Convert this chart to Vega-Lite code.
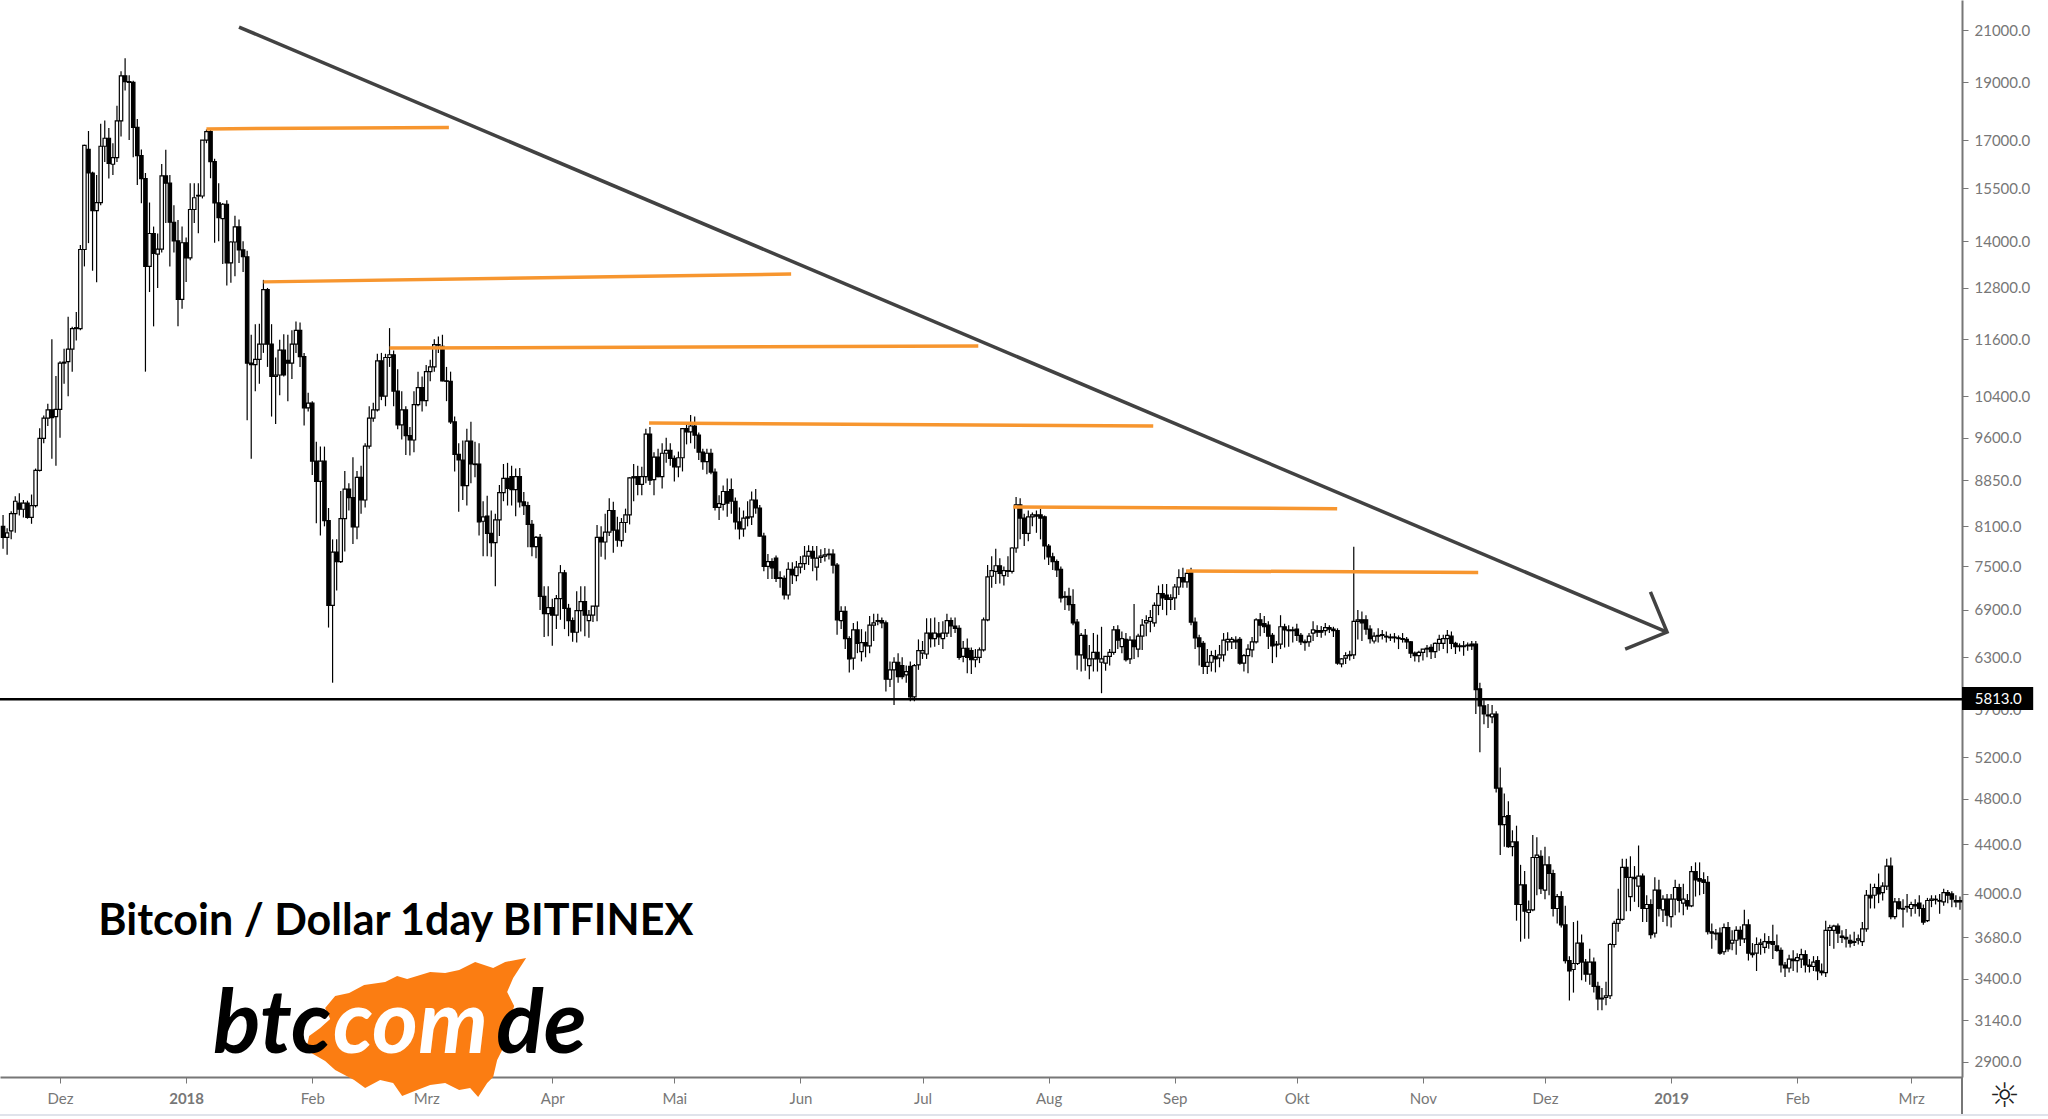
{"$schema":"https://vega.github.io/schema/vega-lite/v6.json","padding":{"left":0,"top":0,"right":86,"bottom":42},"background":"white","width":1962,"height":1077,"autosize":{"type":"none"},"config":{"view":{"stroke":null},"scale":{"continuousPadding":0}},
"datasets":{"candles":[
{"d":"2017-11-17","o":8100,"h":8280,"l":7760,"c":7930},{"d":"2017-11-18","o":7930,"h":8070,"l":7670,"c":8000},{"d":"2017-11-19","o":8030,"h":8340,"l":7900,"c":8300},{"d":"2017-11-20","o":8300,"h":8580,"l":8000,"c":8500},{"d":"2017-11-21","o":8470,"h":8630,"l":8270,"c":8370},{"d":"2017-11-22","o":8370,"h":8520,"l":8240,"c":8470},{"d":"2017-11-23","o":8470,"h":8510,"l":8220,"c":8240},{"d":"2017-11-24","o":8240,"h":8610,"l":8140,"c":8430},{"d":"2017-11-25","o":8430,"h":9050,"l":8400,"c":9020},{"d":"2017-11-26","o":9020,"h":9780,"l":9000,"c":9590},{"d":"2017-11-27","o":9590,"h":10020,"l":9500,"c":9970},{"d":"2017-11-28","o":9970,"h":10250,"l":9820,"c":10130},{"d":"2017-11-29","o":10130,"h":11600,"l":9220,"c":9980},{"d":"2017-11-30","o":10000,"h":10810,"l":9100,"c":10140},
{"d":"2017-12-01","o":10140,"h":11120,"l":9600,"c":11080},{"d":"2017-12-02","o":11080,"h":11390,"l":10650,"c":11100},{"d":"2017-12-03","o":11110,"h":12110,"l":10400,"c":11380},{"d":"2017-12-04","o":11380,"h":11880,"l":10900,"c":11840},{"d":"2017-12-05","o":11840,"h":12220,"l":11570,"c":11860},{"d":"2017-12-06","o":11840,"h":13900,"l":11800,"c":13780},{"d":"2017-12-07","o":13780,"h":16850,"l":13340,"c":16830},{"d":"2017-12-08","o":16700,"h":17300,"l":13950,"c":15960},{"d":"2017-12-09","o":15960,"h":16000,"l":13230,"c":14850},{"d":"2017-12-10","o":14850,"h":15900,"l":12940,"c":15080},{"d":"2017-12-11","o":15080,"h":17540,"l":15000,"c":16800},{"d":"2017-12-12","o":16800,"h":17650,"l":16300,"c":17060},{"d":"2017-12-13","o":17060,"h":17400,"l":15790,"c":16260},{"d":"2017-12-14","o":16230,"h":16900,"l":15900,"c":16440},{"d":"2017-12-15","o":16440,"h":18160,"l":16300,"c":17640},{"d":"2017-12-16","o":17640,"h":19400,"l":17120,"c":19230},{"d":"2017-12-17","o":19230,"h":19890,"l":18700,"c":19020},{"d":"2017-12-18","o":19020,"h":19250,"l":17000,"c":18990},{"d":"2017-12-19","o":18990,"h":19050,"l":16450,"c":17420},{"d":"2017-12-20","o":17420,"h":17700,"l":15600,"c":16500},{"d":"2017-12-21","o":16500,"h":16700,"l":15060,"c":15790},{"d":"2017-12-22","o":15790,"h":15960,"l":10900,"c":13340},{"d":"2017-12-23","o":13340,"h":15080,"l":12700,"c":14210},{"d":"2017-12-24","o":14210,"h":14400,"l":11890,"c":13680},{"d":"2017-12-25","o":13660,"h":14210,"l":12800,"c":13790},{"d":"2017-12-26","o":13790,"h":16240,"l":13700,"c":15870},{"d":"2017-12-27","o":15870,"h":16690,"l":14500,"c":15650},{"d":"2017-12-28","o":15650,"h":15900,"l":13340,"c":14520},{"d":"2017-12-29","o":14520,"h":15000,"l":13700,"c":14010},{"d":"2017-12-30","o":14010,"h":14580,"l":11890,"c":12520},{"d":"2017-12-31","o":12520,"h":14400,"l":12300,"c":13960},
{"d":"2018-01-01","o":13960,"h":14100,"l":12950,"c":13560},{"d":"2018-01-02","o":13560,"h":15650,"l":13500,"c":14880},{"d":"2018-01-03","o":14880,"h":15650,"l":14500,"c":15220},{"d":"2018-01-04","o":15290,"h":15650,"l":14220,"c":15270},{"d":"2018-01-05","o":15270,"h":17000,"l":15200,"c":17000},{"d":"2018-01-06","o":17000,"h":17350,"l":16900,"c":17280},{"d":"2018-01-07","o":17280,"h":17340,"l":15800,"c":16310},{"d":"2018-01-08","o":16310,"h":16400,"l":13960,"c":15070},{"d":"2018-01-09","o":15070,"h":15650,"l":14000,"c":14650},{"d":"2018-01-10","o":14620,"h":15070,"l":13400,"c":15030},{"d":"2018-01-11","o":15030,"h":15150,"l":12860,"c":13430},{"d":"2018-01-12","o":13430,"h":14000,"l":12930,"c":13980},{"d":"2018-01-13","o":13980,"h":14700,"l":13090,"c":14390},{"d":"2018-01-14","o":14390,"h":14600,"l":13430,"c":13770},{"d":"2018-01-15","o":13770,"h":14000,"l":13200,"c":13590},{"d":"2018-01-16","o":13590,"h":13750,"l":9930,"c":11080},{"d":"2018-01-17","o":11080,"h":11700,"l":9220,"c":11050},{"d":"2018-01-18","o":11050,"h":11940,"l":10500,"c":11160},{"d":"2018-01-19","o":11160,"h":11950,"l":10650,"c":11490},{"d":"2018-01-20","o":11490,"h":13000,"l":11300,"c":12760},{"d":"2018-01-21","o":12760,"h":12800,"l":11000,"c":11490},{"d":"2018-01-22","o":11490,"h":11940,"l":10000,"c":10800},{"d":"2018-01-23","o":10800,"h":11200,"l":9860,"c":10830},{"d":"2018-01-24","o":10830,"h":11590,"l":10420,"c":11360},{"d":"2018-01-25","o":11360,"h":11710,"l":10800,"c":10830},{"d":"2018-01-26","o":11140,"h":11700,"l":10300,"c":11080},{"d":"2018-01-27","o":11080,"h":11800,"l":10750,"c":11490},{"d":"2018-01-28","o":11490,"h":12000,"l":11300,"c":11800},{"d":"2018-01-29","o":11800,"h":11980,"l":11000,"c":11220},{"d":"2018-01-30","o":11220,"h":11300,"l":9830,"c":10170},{"d":"2018-01-31","o":10170,"h":10470,"l":10100,"c":10260},
{"d":"2018-02-01","o":10260,"h":10300,"l":8940,"c":9180},{"d":"2018-02-02","o":9180,"h":9530,"l":8150,"c":8830},{"d":"2018-02-03","o":8830,"h":9440,"l":7960,"c":9180},{"d":"2018-02-04","o":9180,"h":9440,"l":8100,"c":8190},{"d":"2018-02-05","o":8190,"h":8390,"l":6670,"c":6960},{"d":"2018-02-06","o":6960,"h":7900,"l":6000,"c":7710},{"d":"2018-02-07","o":7710,"h":7900,"l":7160,"c":7570},{"d":"2018-02-08","o":7570,"h":8670,"l":7550,"c":8220},{"d":"2018-02-09","o":8220,"h":9010,"l":7720,"c":8700},{"d":"2018-02-10","o":8700,"h":8800,"l":8350,"c":8560},{"d":"2018-02-11","o":8560,"h":9250,"l":7830,"c":8090},{"d":"2018-02-12","o":8090,"h":9010,"l":7900,"c":8900},{"d":"2018-02-13","o":8900,"h":9100,"l":8300,"c":8520},{"d":"2018-02-14","o":8520,"h":9500,"l":8400,"c":9450},{"d":"2018-02-15","o":9450,"h":10200,"l":9400,"c":9970},{"d":"2018-02-16","o":9970,"h":10270,"l":9900,"c":10130},{"d":"2018-02-17","o":10130,"h":11280,"l":10100,"c":11130},{"d":"2018-02-18","o":11130,"h":11300,"l":10320,"c":10400},{"d":"2018-02-19","o":10400,"h":11280,"l":10200,"c":11200},{"d":"2018-02-20","o":11200,"h":11850,"l":11000,"c":11260},{"d":"2018-02-21","o":11260,"h":11350,"l":10200,"c":10500},{"d":"2018-02-22","o":10500,"h":10950,"l":9760,"c":9840},{"d":"2018-02-23","o":9840,"h":10500,"l":9570,"c":10130},{"d":"2018-02-24","o":10130,"h":10200,"l":9290,"c":9640},{"d":"2018-02-25","o":9640,"h":9800,"l":9280,"c":9560},{"d":"2018-02-26","o":9560,"h":10500,"l":9340,"c":10230},{"d":"2018-02-27","o":10230,"h":10900,"l":10200,"c":10570},{"d":"2018-02-28","o":10570,"h":10800,"l":10100,"c":10310},
{"d":"2018-03-01","o":10310,"h":11040,"l":10200,"c":10900},{"d":"2018-03-02","o":10900,"h":11150,"l":10700,"c":11000},{"d":"2018-03-03","o":11000,"h":11600,"l":10900,"c":11480},{"d":"2018-03-04","o":11480,"h":11660,"l":11300,"c":11470},{"d":"2018-03-05","o":11440,"h":11700,"l":10700,"c":10710},{"d":"2018-03-06","o":10710,"h":11000,"l":10300,"c":10700},{"d":"2018-03-07","o":10700,"h":10900,"l":9860,"c":9900},{"d":"2018-03-08","o":9900,"h":10000,"l":9000,"c":9300},{"d":"2018-03-09","o":9300,"h":9500,"l":8330,"c":9200},{"d":"2018-03-10","o":9200,"h":9550,"l":8520,"c":8760},{"d":"2018-03-11","o":8760,"h":9770,"l":8430,"c":9540},{"d":"2018-03-12","o":9540,"h":9900,"l":8800,"c":9130},{"d":"2018-03-13","o":9130,"h":9530,"l":8900,"c":9120},{"d":"2018-03-14","o":9130,"h":9500,"l":7960,"c":8170},{"d":"2018-03-15","o":8180,"h":8500,"l":7650,"c":8250},{"d":"2018-03-16","o":8260,"h":8590,"l":7650,"c":7990},{"d":"2018-03-17","o":7990,"h":8350,"l":7640,"c":7850},{"d":"2018-03-18","o":7850,"h":8300,"l":7220,"c":8200},{"d":"2018-03-19","o":8200,"h":8770,"l":7950,"c":8640},{"d":"2018-03-20","o":8640,"h":9130,"l":8500,"c":8880},{"d":"2018-03-21","o":8880,"h":9150,"l":8430,"c":8710},{"d":"2018-03-22","o":8910,"h":9100,"l":8430,"c":8690},{"d":"2018-03-23","o":8690,"h":9050,"l":8260,"c":8910},{"d":"2018-03-24","o":8910,"h":9060,"l":8400,"c":8490},{"d":"2018-03-25","o":8490,"h":8650,"l":8280,"c":8430},{"d":"2018-03-26","o":8430,"h":8490,"l":7780,"c":8130},{"d":"2018-03-27","o":8130,"h":8200,"l":7650,"c":7790},{"d":"2018-03-28","o":7790,"h":7950,"l":7620,"c":7930},{"d":"2018-03-29","o":7930,"h":7980,"l":6900,"c":7080},{"d":"2018-03-30","o":7080,"h":7220,"l":6550,"c":6850},{"d":"2018-03-31","o":6850,"h":7220,"l":6560,"c":6930},
{"d":"2018-04-01","o":6930,"h":7050,"l":6440,"c":6830},{"d":"2018-04-02","o":6830,"h":7100,"l":6650,"c":7050},{"d":"2018-04-03","o":7050,"h":7520,"l":6770,"c":7410},{"d":"2018-04-04","o":7410,"h":7450,"l":6650,"c":6920},{"d":"2018-04-05","o":6920,"h":6980,"l":6560,"c":6760},{"d":"2018-04-06","o":6760,"h":6800,"l":6490,"c":6610},{"d":"2018-04-07","o":6610,"h":7150,"l":6480,"c":6890},{"d":"2018-04-08","o":6890,"h":7220,"l":6620,"c":7010},{"d":"2018-04-09","o":7010,"h":7220,"l":6560,"c":6830},{"d":"2018-04-10","o":6760,"h":6900,"l":6540,"c":6830},{"d":"2018-04-11","o":6830,"h":6950,"l":6740,"c":6950},{"d":"2018-04-12","o":6950,"h":8120,"l":6750,"c":7930},{"d":"2018-04-13","o":7930,"h":8100,"l":7640,"c":7860},{"d":"2018-04-14","o":7860,"h":8300,"l":7600,"c":8010},{"d":"2018-04-15","o":8010,"h":8550,"l":7950,"c":8350},{"d":"2018-04-16","o":8350,"h":8490,"l":7700,"c":8040},{"d":"2018-04-17","o":8040,"h":8250,"l":7790,"c":7890},{"d":"2018-04-18","o":7880,"h":8230,"l":7790,"c":8160},{"d":"2018-04-19","o":8160,"h":8380,"l":8000,"c":8280},{"d":"2018-04-20","o":8280,"h":8900,"l":8130,"c":8890},{"d":"2018-04-21","o":8890,"h":9130,"l":8500,"c":8910},{"d":"2018-04-22","o":8910,"h":9100,"l":8600,"c":8780},{"d":"2018-04-23","o":8780,"h":9080,"l":8600,"c":8910},{"d":"2018-04-24","o":8910,"h":9770,"l":8800,"c":9670},{"d":"2018-04-25","o":9670,"h":9800,"l":8770,"c":8850},{"d":"2018-04-26","o":8860,"h":9340,"l":8600,"c":9250},{"d":"2018-04-27","o":9250,"h":9400,"l":8900,"c":8910},{"d":"2018-04-28","o":8910,"h":9500,"l":8710,"c":9320},{"d":"2018-04-29","o":9320,"h":9600,"l":9150,"c":9370},{"d":"2018-04-30","o":9370,"h":9500,"l":9100,"c":9230},
{"d":"2018-05-01","o":9230,"h":9280,"l":8830,"c":9080},{"d":"2018-05-02","o":9080,"h":9350,"l":8900,"c":9240},{"d":"2018-05-03","o":9240,"h":9780,"l":9000,"c":9770},{"d":"2018-05-04","o":9770,"h":9890,"l":9480,"c":9710},{"d":"2018-05-05","o":9710,"h":10030,"l":9500,"c":9820},{"d":"2018-05-06","o":9820,"h":10000,"l":9400,"c":9650},{"d":"2018-05-07","o":9650,"h":9700,"l":9200,"c":9340},{"d":"2018-05-08","o":9340,"h":9400,"l":9030,"c":9170},{"d":"2018-05-09","o":9170,"h":9400,"l":8950,"c":9320},{"d":"2018-05-10","o":9320,"h":9400,"l":8950,"c":8990},{"d":"2018-05-11","o":8990,"h":9050,"l":8350,"c":8400},{"d":"2018-05-12","o":8400,"h":8600,"l":8200,"c":8460},{"d":"2018-05-13","o":8450,"h":8760,"l":8350,"c":8660},{"d":"2018-05-14","o":8660,"h":8880,"l":8250,"c":8470},{"d":"2018-05-15","o":8690,"h":8880,"l":8300,"c":8500},{"d":"2018-05-16","o":8500,"h":8560,"l":8050,"c":8170},{"d":"2018-05-17","o":8170,"h":8400,"l":7900,"c":8060},{"d":"2018-05-18","o":8060,"h":8350,"l":7940,"c":8230},{"d":"2018-05-19","o":8230,"h":8500,"l":8100,"c":8250},{"d":"2018-05-20","o":8250,"h":8660,"l":8120,"c":8520},{"d":"2018-05-21","o":8520,"h":8700,"l":8300,"c":8390},{"d":"2018-05-22","o":8390,"h":8440,"l":7940,"c":7950},{"d":"2018-05-23","o":7950,"h":8000,"l":7430,"c":7500},{"d":"2018-05-24","o":7500,"h":7680,"l":7320,"c":7570},{"d":"2018-05-25","o":7570,"h":7620,"l":7320,"c":7480},{"d":"2018-05-26","o":7620,"h":7660,"l":7280,"c":7330},{"d":"2018-05-27","o":7340,"h":7430,"l":7200,"c":7330},{"d":"2018-05-28","o":7330,"h":7370,"l":7040,"c":7100},{"d":"2018-05-29","o":7100,"h":7560,"l":7040,"c":7460},{"d":"2018-05-30","o":7460,"h":7560,"l":7250,"c":7380},{"d":"2018-05-31","o":7370,"h":7580,"l":7290,"c":7490},
{"d":"2018-06-01","o":7490,"h":7650,"l":7400,"c":7540},{"d":"2018-06-02","o":7540,"h":7800,"l":7450,"c":7650},{"d":"2018-06-03","o":7650,"h":7810,"l":7520,"c":7720},{"d":"2018-06-04","o":7720,"h":7800,"l":7430,"c":7620},{"d":"2018-06-05","o":7490,"h":7800,"l":7300,"c":7620},{"d":"2018-06-06","o":7630,"h":7750,"l":7550,"c":7650},{"d":"2018-06-07","o":7650,"h":7770,"l":7570,"c":7670},{"d":"2018-06-08","o":7670,"h":7760,"l":7600,"c":7680},{"d":"2018-06-09","o":7680,"h":7750,"l":7400,"c":7520},{"d":"2018-06-10","o":7520,"h":7550,"l":6580,"c":6770},{"d":"2018-06-11","o":6760,"h":6950,"l":6650,"c":6880},{"d":"2018-06-12","o":6880,"h":6950,"l":6400,"c":6530},{"d":"2018-06-13","o":6530,"h":6560,"l":6120,"c":6280},{"d":"2018-06-14","o":6290,"h":6730,"l":6150,"c":6640},{"d":"2018-06-15","o":6640,"h":6750,"l":6350,"c":6470},{"d":"2018-06-16","o":6370,"h":6650,"l":6250,"c":6480},{"d":"2018-06-17","o":6480,"h":6620,"l":6300,"c":6440},{"d":"2018-06-18","o":6440,"h":6820,"l":6350,"c":6700},{"d":"2018-06-19","o":6700,"h":6850,"l":6500,"c":6730},{"d":"2018-06-20","o":6750,"h":6850,"l":6700,"c":6760},{"d":"2018-06-21","o":6760,"h":6800,"l":6660,"c":6730},{"d":"2018-06-22","o":6730,"h":6760,"l":5900,"c":6040},{"d":"2018-06-23","o":6040,"h":6250,"l":5950,"c":6150},{"d":"2018-06-24","o":6150,"h":6300,"l":5750,"c":6240},{"d":"2018-06-25","o":6240,"h":6350,"l":6000,"c":6070},{"d":"2018-06-26","o":6200,"h":6300,"l":6040,"c":6070},{"d":"2018-06-27","o":6090,"h":6200,"l":6000,"c":6130},{"d":"2018-06-28","o":6190,"h":6250,"l":5790,"c":5840},{"d":"2018-06-29","o":5840,"h":6220,"l":5790,"c":6200},{"d":"2018-06-30","o":6210,"h":6520,"l":6150,"c":6380},
{"d":"2018-07-01","o":6350,"h":6500,"l":6280,"c":6380},{"d":"2018-07-02","o":6340,"h":6790,"l":6280,"c":6600},{"d":"2018-07-03","o":6600,"h":6790,"l":6420,"c":6530},{"d":"2018-07-04","o":6530,"h":6800,"l":6430,"c":6600},{"d":"2018-07-05","o":6590,"h":6740,"l":6450,"c":6550},{"d":"2018-07-06","o":6530,"h":6750,"l":6400,"c":6600},{"d":"2018-07-07","o":6600,"h":6850,"l":6550,"c":6760},{"d":"2018-07-08","o":6760,"h":6800,"l":6550,"c":6690},{"d":"2018-07-09","o":6690,"h":6800,"l":6600,"c":6660},{"d":"2018-07-10","o":6660,"h":6700,"l":6270,"c":6300},{"d":"2018-07-11","o":6310,"h":6500,"l":6240,"c":6410},{"d":"2018-07-12","o":6410,"h":6530,"l":6110,"c":6300},{"d":"2018-07-13","o":6380,"h":6420,"l":6100,"c":6270},{"d":"2018-07-14","o":6270,"h":6400,"l":6180,"c":6300},{"d":"2018-07-15","o":6300,"h":6420,"l":6230,"c":6390},{"d":"2018-07-16","o":6390,"h":6800,"l":6370,"c":6770},{"d":"2018-07-17","o":6770,"h":7520,"l":6750,"c":7350},{"d":"2018-07-18","o":7360,"h":7650,"l":7200,"c":7440},{"d":"2018-07-19","o":7430,"h":7760,"l":7250,"c":7510},{"d":"2018-07-20","o":7510,"h":7620,"l":7260,"c":7400},{"d":"2018-07-21","o":7370,"h":7500,"l":7230,"c":7440},{"d":"2018-07-22","o":7440,"h":7650,"l":7350,"c":7430},{"d":"2018-07-23","o":7430,"h":7780,"l":7400,"c":7770},{"d":"2018-07-24","o":7770,"h":8570,"l":7700,"c":8440},{"d":"2018-07-25","o":8440,"h":8550,"l":7900,"c":8230},{"d":"2018-07-26","o":8230,"h":8300,"l":7800,"c":7990},{"d":"2018-07-27","o":7990,"h":8350,"l":7870,"c":8250},{"d":"2018-07-28","o":8250,"h":8320,"l":8100,"c":8280},{"d":"2018-07-29","o":8280,"h":8350,"l":8000,"c":8260},{"d":"2018-07-30","o":8280,"h":8380,"l":7900,"c":8230},{"d":"2018-07-31","o":8250,"h":8270,"l":7600,"c":7800},
{"d":"2018-08-01","o":7800,"h":7830,"l":7520,"c":7640},{"d":"2018-08-02","o":7640,"h":7700,"l":7450,"c":7570},{"d":"2018-08-03","o":7570,"h":7600,"l":7350,"c":7450},{"d":"2018-08-04","o":7460,"h":7500,"l":7000,"c":7060},{"d":"2018-08-05","o":7080,"h":7150,"l":6900,"c":7070},{"d":"2018-08-06","o":7080,"h":7200,"l":6890,"c":6970},{"d":"2018-08-07","o":6970,"h":7180,"l":6700,"c":6730},{"d":"2018-08-08","o":6740,"h":6780,"l":6150,"c":6330},{"d":"2018-08-09","o":6330,"h":6600,"l":6130,"c":6570},{"d":"2018-08-10","o":6570,"h":6650,"l":6140,"c":6290},{"d":"2018-08-11","o":6200,"h":6450,"l":6040,"c":6280},{"d":"2018-08-12","o":6280,"h":6600,"l":6130,"c":6360},{"d":"2018-08-13","o":6360,"h":6580,"l":6130,"c":6280},{"d":"2018-08-14","o":6240,"h":6680,"l":5880,"c":6280},{"d":"2018-08-15","o":6230,"h":6310,"l":6140,"c":6310},{"d":"2018-08-16","o":6310,"h":6400,"l":6200,"c":6360},{"d":"2018-08-17","o":6360,"h":6690,"l":6330,"c":6640},{"d":"2018-08-18","o":6640,"h":6700,"l":6400,"c":6510},{"d":"2018-08-19","o":6430,"h":6620,"l":6350,"c":6530},{"d":"2018-08-20","o":6520,"h":6600,"l":6250,"c":6270},{"d":"2018-08-21","o":6280,"h":6560,"l":6220,"c":6510},{"d":"2018-08-22","o":6510,"h":6980,"l":6280,"c":6430},{"d":"2018-08-23","o":6400,"h":6590,"l":6300,"c":6560},{"d":"2018-08-24","o":6560,"h":6780,"l":6390,"c":6700},{"d":"2018-08-25","o":6730,"h":6830,"l":6560,"c":6760},{"d":"2018-08-26","o":6750,"h":6900,"l":6610,"c":6800},{"d":"2018-08-27","o":6730,"h":7000,"l":6680,"c":6960},{"d":"2018-08-28","o":6960,"h":7230,"l":6830,"c":7120},{"d":"2018-08-29","o":7120,"h":7250,"l":6900,"c":7060},{"d":"2018-08-30","o":7100,"h":7250,"l":6830,"c":7040},{"d":"2018-08-31","o":7040,"h":7110,"l":6900,"c":7060},
{"d":"2018-09-01","o":7060,"h":7250,"l":6900,"c":7210},{"d":"2018-09-02","o":7210,"h":7460,"l":7100,"c":7340},{"d":"2018-09-03","o":7340,"h":7480,"l":7200,"c":7280},{"d":"2018-09-04","o":7280,"h":7450,"l":7200,"c":7400},{"d":"2018-09-05","o":7430,"h":7480,"l":6700,"c":6740},{"d":"2018-09-06","o":6740,"h":6800,"l":6400,"c":6540},{"d":"2018-09-07","o":6540,"h":6580,"l":6200,"c":6430},{"d":"2018-09-08","o":6470,"h":6500,"l":6100,"c":6190},{"d":"2018-09-09","o":6190,"h":6400,"l":6100,"c":6240},{"d":"2018-09-10","o":6240,"h":6380,"l":6130,"c":6320},{"d":"2018-09-11","o":6310,"h":6390,"l":6120,"c":6280},{"d":"2018-09-12","o":6290,"h":6450,"l":6180,"c":6330},{"d":"2018-09-13","o":6330,"h":6600,"l":6250,"c":6510},{"d":"2018-09-14","o":6490,"h":6610,"l":6380,"c":6520},{"d":"2018-09-15","o":6490,"h":6550,"l":6400,"c":6520},{"d":"2018-09-16","o":6510,"h":6560,"l":6400,"c":6490},{"d":"2018-09-17","o":6520,"h":6550,"l":6210,"c":6230},{"d":"2018-09-18","o":6230,"h":6340,"l":6130,"c":6320},{"d":"2018-09-19","o":6320,"h":6460,"l":6110,"c":6400},{"d":"2018-09-20","o":6390,"h":6550,"l":6300,"c":6490},{"d":"2018-09-21","o":6490,"h":6790,"l":6470,"c":6770},{"d":"2018-09-22","o":6770,"h":6860,"l":6560,"c":6700},{"d":"2018-09-23","o":6720,"h":6820,"l":6600,"c":6680},{"d":"2018-09-24","o":6700,"h":6750,"l":6400,"c":6560},{"d":"2018-09-25","o":6570,"h":6600,"l":6230,"c":6440},{"d":"2018-09-26","o":6460,"h":6500,"l":6300,"c":6450},{"d":"2018-09-27","o":6460,"h":6830,"l":6400,"c":6680},{"d":"2018-09-28","o":6680,"h":6720,"l":6420,"c":6640},{"d":"2018-09-29","o":6640,"h":6700,"l":6430,"c":6630},{"d":"2018-09-30","o":6640,"h":6680,"l":6480,"c":6630},
{"d":"2018-10-01","o":6650,"h":6720,"l":6500,"c":6570},{"d":"2018-10-02","o":6570,"h":6600,"l":6450,"c":6490},{"d":"2018-10-03","o":6490,"h":6520,"l":6380,"c":6480},{"d":"2018-10-04","o":6490,"h":6600,"l":6430,"c":6560},{"d":"2018-10-05","o":6600,"h":6750,"l":6500,"c":6640},{"d":"2018-10-06","o":6630,"h":6700,"l":6550,"c":6610},{"d":"2018-10-07","o":6630,"h":6690,"l":6540,"c":6610},{"d":"2018-10-08","o":6630,"h":6730,"l":6570,"c":6670},{"d":"2018-10-09","o":6670,"h":6700,"l":6600,"c":6650},{"d":"2018-10-10","o":6650,"h":6680,"l":6550,"c":6630},{"d":"2018-10-11","o":6630,"h":6660,"l":6210,"c":6230},{"d":"2018-10-12","o":6220,"h":6290,"l":6180,"c":6280},{"d":"2018-10-13","o":6290,"h":6360,"l":6220,"c":6320},{"d":"2018-10-14","o":6320,"h":6380,"l":6260,"c":6330},{"d":"2018-10-15","o":6330,"h":7790,"l":6280,"c":6750},{"d":"2018-10-16","o":6750,"h":6900,"l":6520,"c":6770},{"d":"2018-10-17","o":6770,"h":6880,"l":6500,"c":6730},{"d":"2018-10-18","o":6770,"h":6830,"l":6580,"c":6650},{"d":"2018-10-19","o":6650,"h":6700,"l":6470,"c":6530},{"d":"2018-10-20","o":6500,"h":6610,"l":6470,"c":6560},{"d":"2018-10-21","o":6560,"h":6660,"l":6480,"c":6570},{"d":"2018-10-22","o":6580,"h":6640,"l":6520,"c":6570},{"d":"2018-10-23","o":6550,"h":6620,"l":6480,"c":6560},{"d":"2018-10-24","o":6550,"h":6590,"l":6500,"c":6540},{"d":"2018-10-25","o":6550,"h":6600,"l":6480,"c":6540},{"d":"2018-10-26","o":6540,"h":6570,"l":6400,"c":6530},{"d":"2018-10-27","o":6530,"h":6600,"l":6480,"c":6520},{"d":"2018-10-28","o":6520,"h":6550,"l":6400,"c":6490},{"d":"2018-10-29","o":6490,"h":6500,"l":6290,"c":6350},{"d":"2018-10-30","o":6350,"h":6370,"l":6250,"c":6320},{"d":"2018-10-31","o":6320,"h":6380,"l":6240,"c":6360},
{"d":"2018-11-01","o":6360,"h":6400,"l":6260,"c":6400},{"d":"2018-11-02","o":6400,"h":6450,"l":6300,"c":6410},{"d":"2018-11-03","o":6420,"h":6460,"l":6280,"c":6370},{"d":"2018-11-04","o":6370,"h":6480,"l":6290,"c":6470},{"d":"2018-11-05","o":6470,"h":6580,"l":6380,"c":6520},{"d":"2018-11-06","o":6470,"h":6580,"l":6400,"c":6530},{"d":"2018-11-07","o":6530,"h":6640,"l":6350,"c":6570},{"d":"2018-11-08","o":6560,"h":6620,"l":6400,"c":6470},{"d":"2018-11-09","o":6470,"h":6490,"l":6340,"c":6430},{"d":"2018-11-10","o":6430,"h":6470,"l":6370,"c":6440},{"d":"2018-11-11","o":6430,"h":6500,"l":6320,"c":6440},{"d":"2018-11-12","o":6440,"h":6480,"l":6380,"c":6450},{"d":"2018-11-13","o":6460,"h":6500,"l":6390,"c":6440},{"d":"2018-11-14","o":6460,"h":6500,"l":5650,"c":5920},{"d":"2018-11-15","o":5930,"h":6000,"l":5250,"c":5740},{"d":"2018-11-16","o":5740,"h":5800,"l":5540,"c":5650},{"d":"2018-11-17","o":5640,"h":5760,"l":5500,"c":5630},{"d":"2018-11-18","o":5620,"h":5750,"l":5550,"c":5650},{"d":"2018-11-19","o":5650,"h":5680,"l":4860,"c":4900},{"d":"2018-11-20","o":4900,"h":5100,"l":4310,"c":4570},{"d":"2018-11-21","o":4570,"h":4850,"l":4380,"c":4640},{"d":"2018-11-22","o":4650,"h":4780,"l":4370,"c":4380},{"d":"2018-11-23","o":4380,"h":4520,"l":4300,"c":4420},{"d":"2018-11-24","o":4420,"h":4560,"l":3800,"c":3920},{"d":"2018-11-25","o":3920,"h":4230,"l":3650,"c":4070},{"d":"2018-11-26","o":4070,"h":4180,"l":3670,"c":3870},{"d":"2018-11-27","o":3860,"h":3950,"l":3670,"c":3880},{"d":"2018-11-28","o":3880,"h":4480,"l":3870,"c":4290},{"d":"2018-11-29","o":4290,"h":4460,"l":3990,"c":4310},{"d":"2018-11-30","o":4300,"h":4350,"l":4000,"c":4040},
{"d":"2018-12-01","o":4030,"h":4380,"l":3960,"c":4230},{"d":"2018-12-02","o":4230,"h":4300,"l":3990,"c":4160},{"d":"2018-12-03","o":4160,"h":4190,"l":3830,"c":3890},{"d":"2018-12-04","o":3890,"h":4000,"l":3780,"c":3980},{"d":"2018-12-05","o":3980,"h":4020,"l":3750,"c":3770},{"d":"2018-12-06","o":3770,"h":3910,"l":3500,"c":3520},{"d":"2018-12-07","o":3520,"h":3550,"l":3260,"c":3450},{"d":"2018-12-08","o":3460,"h":3790,"l":3310,"c":3500},{"d":"2018-12-09","o":3500,"h":3800,"l":3490,"c":3640},{"d":"2018-12-10","o":3640,"h":3700,"l":3390,"c":3510},{"d":"2018-12-11","o":3510,"h":3530,"l":3380,"c":3430},{"d":"2018-12-12","o":3430,"h":3600,"l":3360,"c":3510},{"d":"2018-12-13","o":3510,"h":3540,"l":3310,"c":3350},{"d":"2018-12-14","o":3350,"h":3380,"l":3200,"c":3270},{"d":"2018-12-15","o":3270,"h":3340,"l":3200,"c":3275},{"d":"2018-12-16","o":3280,"h":3380,"l":3230,"c":3290},{"d":"2018-12-17","o":3290,"h":3640,"l":3270,"c":3630},{"d":"2018-12-18","o":3630,"h":3800,"l":3610,"c":3780},{"d":"2018-12-19","o":3780,"h":4040,"l":3720,"c":3810},{"d":"2018-12-20","o":3810,"h":4280,"l":3800,"c":4210},{"d":"2018-12-21","o":4210,"h":4280,"l":3870,"c":4130},{"d":"2018-12-22","o":3980,"h":4300,"l":3870,"c":4130},{"d":"2018-12-23","o":4130,"h":4220,"l":3940,"c":4120},{"d":"2018-12-24","o":4060,"h":4390,"l":3900,"c":4140},{"d":"2018-12-25","o":4140,"h":4160,"l":3790,"c":3890},{"d":"2018-12-26","o":3890,"h":3990,"l":3790,"c":3920},{"d":"2018-12-27","o":3920,"h":3960,"l":3670,"c":3700},{"d":"2018-12-28","o":3710,"h":4130,"l":3680,"c":4030},{"d":"2018-12-29","o":4030,"h":4110,"l":3830,"c":3890},{"d":"2018-12-30","o":3880,"h":3990,"l":3790,"c":3960},{"d":"2018-12-31","o":3960,"h":4000,"l":3760,"c":3840},
{"d":"2019-01-01","o":3830,"h":4000,"l":3750,"c":3960},{"d":"2019-01-02","o":3960,"h":4110,"l":3840,"c":4050},{"d":"2019-01-03","o":4050,"h":4080,"l":3860,"c":3950},{"d":"2019-01-04","o":3930,"h":4080,"l":3840,"c":3960},{"d":"2019-01-05","o":3950,"h":4000,"l":3880,"c":3910},{"d":"2019-01-06","o":3910,"h":4220,"l":3900,"c":4175},{"d":"2019-01-07","o":4175,"h":4250,"l":3980,"c":4110},{"d":"2019-01-08","o":4120,"h":4250,"l":3990,"c":4100},{"d":"2019-01-09","o":4110,"h":4170,"l":4000,"c":4090},{"d":"2019-01-10","o":4090,"h":4140,"l":3700,"c":3720},{"d":"2019-01-11","o":3720,"h":3780,"l":3600,"c":3710},{"d":"2019-01-12","o":3710,"h":3740,"l":3660,"c":3705},{"d":"2019-01-13","o":3710,"h":3750,"l":3560,"c":3570},{"d":"2019-01-14","o":3580,"h":3780,"l":3560,"c":3750},{"d":"2019-01-15","o":3750,"h":3790,"l":3580,"c":3600},{"d":"2019-01-16","o":3640,"h":3730,"l":3590,"c":3660},{"d":"2019-01-17","o":3660,"h":3760,"l":3560,"c":3730},{"d":"2019-01-18","o":3730,"h":3760,"l":3620,"c":3670},{"d":"2019-01-19","o":3670,"h":3880,"l":3640,"c":3770},{"d":"2019-01-20","o":3770,"h":3810,"l":3520,"c":3570},{"d":"2019-01-21","o":3570,"h":3640,"l":3540,"c":3560},{"d":"2019-01-22","o":3570,"h":3680,"l":3450,"c":3630},{"d":"2019-01-23","o":3630,"h":3670,"l":3560,"c":3640},{"d":"2019-01-24","o":3610,"h":3710,"l":3570,"c":3650},{"d":"2019-01-25","o":3650,"h":3690,"l":3600,"c":3640},{"d":"2019-01-26","o":3650,"h":3770,"l":3530,"c":3630},{"d":"2019-01-27","o":3620,"h":3700,"l":3580,"c":3590},{"d":"2019-01-28","o":3590,"h":3610,"l":3440,"c":3490},{"d":"2019-01-29","o":3490,"h":3510,"l":3410,"c":3470},{"d":"2019-01-30","o":3470,"h":3560,"l":3440,"c":3530},{"d":"2019-01-31","o":3530,"h":3590,"l":3450,"c":3520},
{"d":"2019-02-01","o":3520,"h":3570,"l":3440,"c":3540},{"d":"2019-02-02","o":3530,"h":3600,"l":3470,"c":3560},{"d":"2019-02-03","o":3560,"h":3590,"l":3440,"c":3490},{"d":"2019-02-04","o":3490,"h":3530,"l":3440,"c":3480},{"d":"2019-02-05","o":3480,"h":3550,"l":3450,"c":3510},{"d":"2019-02-06","o":3520,"h":3550,"l":3390,"c":3450},{"d":"2019-02-07","o":3450,"h":3500,"l":3420,"c":3440},{"d":"2019-02-08","o":3440,"h":3800,"l":3410,"c":3730},{"d":"2019-02-09","o":3730,"h":3770,"l":3620,"c":3750},{"d":"2019-02-10","o":3730,"h":3770,"l":3600,"c":3760},{"d":"2019-02-11","o":3760,"h":3780,"l":3640,"c":3710},{"d":"2019-02-12","o":3690,"h":3730,"l":3640,"c":3680},{"d":"2019-02-13","o":3680,"h":3740,"l":3610,"c":3670},{"d":"2019-02-14","o":3660,"h":3700,"l":3610,"c":3640},{"d":"2019-02-15","o":3650,"h":3720,"l":3620,"c":3645},{"d":"2019-02-16","o":3660,"h":3700,"l":3630,"c":3670},{"d":"2019-02-17","o":3650,"h":3790,"l":3620,"c":3740},{"d":"2019-02-18","o":3740,"h":4030,"l":3720,"c":3990},{"d":"2019-02-19","o":3990,"h":4080,"l":3890,"c":3970},{"d":"2019-02-20","o":3990,"h":4080,"l":3890,"c":4050},{"d":"2019-02-21","o":4050,"h":4160,"l":3930,"c":4000},{"d":"2019-02-22","o":4010,"h":4090,"l":3950,"c":4060},{"d":"2019-02-23","o":4060,"h":4280,"l":4030,"c":4220},{"d":"2019-02-24","o":4220,"h":4290,"l":3810,"c":3830},{"d":"2019-02-25","o":3830,"h":3970,"l":3810,"c":3940},{"d":"2019-02-26","o":3940,"h":3970,"l":3880,"c":3890},{"d":"2019-02-27","o":3890,"h":3960,"l":3750,"c":3885},{"d":"2019-02-28","o":3900,"h":4000,"l":3860,"c":3905},
{"d":"2019-03-01","o":3890,"h":3940,"l":3830,"c":3920},{"d":"2019-03-02","o":3920,"h":3960,"l":3850,"c":3910},{"d":"2019-03-03","o":3930,"h":3990,"l":3830,"c":3890},{"d":"2019-03-04","o":3890,"h":3920,"l":3770,"c":3790},{"d":"2019-03-05","o":3800,"h":3970,"l":3790,"c":3950},{"d":"2019-03-06","o":3950,"h":3990,"l":3900,"c":3960},{"d":"2019-03-07","o":3960,"h":3990,"l":3920,"c":3955},{"d":"2019-03-08","o":3950,"h":4000,"l":3850,"c":3945},{"d":"2019-03-09","o":3940,"h":4040,"l":3910,"c":4010},{"d":"2019-03-10","o":4010,"h":4030,"l":3930,"c":3990},{"d":"2019-03-11","o":4000,"h":4020,"l":3900,"c":3960},{"d":"2019-03-12","o":3950,"h":3990,"l":3900,"c":3940},{"d":"2019-03-13","o":3950,"h":3980,"l":3880,"c":3940}
],
"lines":[
{"g":"o1","d":"2018-01-06T00:00:00Z","p":17370},{"g":"o1","d":"2018-03-06T14:00:00Z","p":17415},
{"g":"o2","d":"2018-01-20T00:00:00Z","p":12950},{"g":"o2","d":"2018-05-29T17:00:00Z","p":13145},
{"g":"o3","d":"2018-02-20T00:00:00Z","p":11405},{"g":"o3","d":"2018-07-14T17:00:00Z","p":11450},
{"g":"o4","d":"2018-04-24T19:00:00Z","p":9877},{"g":"o4","d":"2018-08-26T17:00:00Z","p":9820},
{"g":"o5","d":"2018-07-23T07:00:00Z","p":8406},{"g":"o5","d":"2018-10-10T22:00:00Z","p":8380},
{"g":"o6","d":"2018-09-03T19:00:00Z","p":7436},{"g":"o6","d":"2018-11-14T14:00:00Z","p":7413}],
"trend":[
{"g":"t","i":0,"d":"2018-01-14T00:00:00Z","p":21120},{"g":"t","i":1,"d":"2018-12-31T00:00:00Z","p":6612},
{"g":"a","i":0,"d":"2018-12-26T22:00:00Z","p":7142},{"g":"a","i":1,"d":"2018-12-31T00:00:00Z","p":6612},{"g":"a","i":2,"d":"2018-12-20T17:00:00Z","p":6400}]},
"layer":[
{"data":{"name":"candles"},"mark":{"type":"rule","color":"#000","strokeWidth":1.2},
"encoding":{"x":{"field":"d","type":"temporal","scale":{"type":"utc","domain":["2017-11-16T06:00:00Z","2019-03-13T12:00:00Z"]},"title":null,
"axis":{"orient":"bottom","tickCount":{"interval":"month","step":1},"grid":false,"domainColor":"#777","domainWidth":2,"tickColor":"#777","tickSize":6,"labelColor":"#777","labelFont":"Lato","labelFontSize":15,"labelPadding":8,"labelFlush":false,"labelOverlap":false,
"labelExpr":"utcmonth(datum.value)==0 ? utcyear(datum.value)+'' : ['','Feb','Mrz','Apr','Mai','Jun','Jul','Aug','Sep','Okt','Nov','Dez'][utcmonth(datum.value)]",
"labelFontWeight":{"condition":{"test":"utcmonth(datum.value)==0","value":"bold"},"value":"normal"}}},
"y":{"field":"l","type":"quantitative","scale":{"type":"log","domain":[2815,22245],"nice":false},"title":null,
"axis":{"orient":"right","values":[2900,3140,3400,3680,4000,4400,4800,5200,5700,6300,6900,7500,8100,8850,9600,10400,11600,12800,14000,15500,17000,19000,21000],"format":".1f","grid":false,"domainColor":"#777","domainWidth":2,"tickColor":"#777","tickSize":6,"labelColor":"#777","labelFont":"Lato","labelFontSize":15,"labelPadding":6,"labelOverlap":false,"labelFlush":false}},
"y2":{"field":"h"}}},
{"data":{"name":"candles"},"mark":{"type":"bar","size":3.4,"stroke":"#000","strokeWidth":1.2},
"encoding":{"x":{"field":"d","type":"temporal","title":null},"y":{"field":"o","type":"quantitative","title":null},"y2":{"field":"c"},
"fill":{"condition":{"test":"datum.c>=datum.o","value":"#ffffff"},"value":"#000000"}}},
{"data":{"values":[{"p":5813}]},"mark":{"type":"rule","color":"#000","strokeWidth":2.5},"encoding":{"y":{"field":"p","type":"quantitative","title":null}}},
{"data":{"name":"lines"},"mark":{"type":"line","color":"#f7962f","strokeWidth":3.5},"encoding":{"x":{"field":"d","type":"temporal","title":null},"y":{"field":"p","type":"quantitative","title":null},"detail":{"field":"g"}}},
{"data":{"name":"trend"},"mark":{"type":"line","color":"#424242","strokeWidth":3.5,"strokeJoin":"miter"},"encoding":{"x":{"field":"d","type":"temporal","title":null},"y":{"field":"p","type":"quantitative","title":null},"detail":{"field":"g"},"order":{"field":"i","type":"quantitative"}}},
{"data":{"values":[{"d":"2019-03-13T12:00:00Z","p":2815,"p2":2617}]},"mark":{"type":"rule","color":"#777","strokeWidth":2},"encoding":{"x":{"field":"d","type":"temporal","title":null},"y":{"field":"p","type":"quantitative","title":null},"y2":{"field":"p2"}}},
{"data":{"values":[{"d":"2017-11-16T06:00:00Z","e":"2019-04-04T00:00:00Z","p":2617}]},"mark":{"type":"rule","color":"#e0e3eb","strokeWidth":2},"encoding":{"x":{"field":"d","type":"temporal","title":null},"x2":{"field":"e"},"y":{"field":"p","type":"quantitative","title":null}}},
{"data":{"values":[{"d":"2019-03-13T12:00:00Z","e":"2019-03-31T00:00:00Z","p":5951,"p2":5693}]},"mark":{"type":"rect","color":"#000"},"encoding":{"x":{"field":"d","type":"temporal","title":null},"x2":{"field":"e"},"y":{"field":"p","type":"quantitative","title":null},"y2":{"field":"p2"}}},
{"data":{"values":[{"d":"2019-03-22T10:00:00Z","p":5813,"t":"5813.0"}]},"mark":{"type":"text","color":"#fff","font":"Lato","fontSize":15,"align":"center","baseline":"middle"},"encoding":{"x":{"field":"d","type":"temporal","title":null},"y":{"field":"p","type":"quantitative","title":null},"text":{"field":"t"}}},
{"data":{"values":[{"d":"2019-03-23T22:00:00Z","p":2708,"t":"☼"}]},"mark":{"type":"text","color":"#222","font":"DejaVu Sans","fontSize":34,"align":"center","baseline":"middle"},"encoding":{"x":{"field":"d","type":"temporal","title":null},"y":{"field":"p","type":"quantitative","title":null},"text":{"field":"t"}}},
{"data":{"values":[{"d":"2018-02-26T07:00:00Z","p":3093}]},"mark":{"type":"point","filled":true,"color":"#fb7d12","opacity":1,"size":40000,"shape":"M-1.06,.08 L-.95,.0 L-.85,-.09 L-.9,-.2 L-.80,-.32 L-.66,-.35 L-.51,-.43 L-.30,-.46 L-.18,-.52 L-.08,-.49 L.15,-.56 L.30,-.55 L.44,-.58 L.6,-.66 L.78,-.60 L.9,-.66 L1.11,-.70 L.98,-.5 L.92,-.36 L.99,-.22 L.93,0 L.87,.22 L.82,.32 L.78,.49 L.72,.55 L.63,.69 L.55,.6 L.44,.62 L.3,.55 L.15,.57 L.02,.62 L-.13,.68 L-.22,.55 L-.35,.52 L-.5,.6 L-.61,.52 L-.80,.42 L-.9,.33 L-1.09,.22 Z"},"encoding":{"x":{"field":"d","type":"temporal","title":null},"y":{"field":"p","type":"quantitative","title":null}}},
{"data":{"values":[{"d":"2017-12-10T10:00:00Z","p":3697,"t":"Bitcoin / Dollar 1day BITFINEX"}]},"mark":{"type":"text","color":"#000","font":"Lato","fontWeight":"bold","fontSize":43,"align":"left","baseline":"alphabetic"},"encoding":{"x":{"field":"d","type":"temporal","title":null},"y":{"field":"p","type":"quantitative","title":null},"text":{"field":"t"}}},
{"data":{"values":[{"d":"2018-01-07T14:00:00Z","p":2948,"t":"btc","k":"black"},{"d":"2018-02-06T03:00:00Z","p":2948,"t":"com","k":"white"},{"d":"2018-03-18T05:00:00Z","p":2948,"t":"de","k":"black"}]},"mark":{"type":"text","font":"Lato","fontWeight":"bold","fontStyle":"italic","fontSize":88,"align":"left","baseline":"alphabetic"},"encoding":{"x":{"field":"d","type":"temporal","title":null},"y":{"field":"p","type":"quantitative","title":null},"text":{"field":"t"},"color":{"field":"k","type":"nominal","scale":null}}}
]}
